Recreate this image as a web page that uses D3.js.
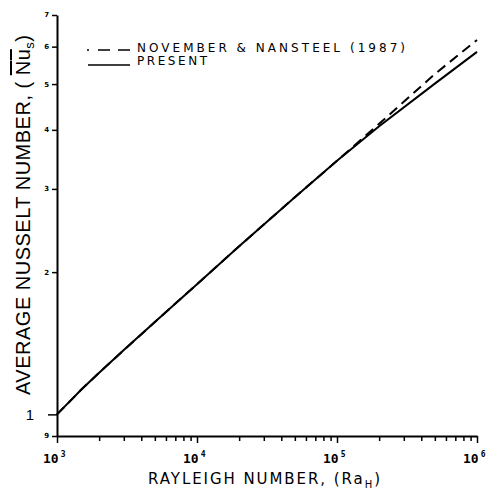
<!DOCTYPE html>
<html>
<head>
<meta charset="utf-8">
<script src="https://cdn.jsdelivr.net/npm/d3@7"></script>
<style>
  body { margin: 0; background: #fff; }
  svg { display: block; }
</style>
</head>
<body>
<script>
// data
var raValues = [1e3, 1.5e3, 2e3, 3e3, 5e3, 1e4, 2e4, 5e4, 1e5, 2e5, 5e5, 1e6];
var nuPresent = [1.00, 1.13, 1.225, 1.368, 1.568, 1.886, 2.268, 2.882, 3.44, 4.07, 5.01, 5.85];
var nuNovember = [1.00, 1.13, 1.225, 1.368, 1.568, 1.886, 2.268, 2.882, 3.44, 4.12, 5.25, 6.2];
var xMajor = [1e3, 1e4, 1e5, 1e6];
var xExponents = ["3", "4", "5", "6"];
var yTicks = [0.9, 1, 2, 3, 4, 5, 6, 7];
var yLabels = ["9", "1", "2", "3", "4", "5", "6", "7"];
var legendNames = ["NOVEMBER & NANSTEEL (1987)", "PRESENT"];

var W = 489, H = 490;
var svg = d3.select("body").append("svg").attr("width", W).attr("height", H);

var x = d3.scaleLog().domain([1e3, 1e6]).range([57, 477]);
var y = d3.scaleLog().domain([0.9, 7]).range([436, 15]);

// all minor ticks for the log x axis
var xTicks = [];
xMajor.forEach(function (m, i) {
    if (i < xMajor.length - 1) {
        for (var k = 1; k < 10; k++) xTicks.push(m * k);
    } else xTicks.push(m);
});

var gx = svg.append("g").attr("transform", "translate(0," + y.range()[0] + ")")
    .call(d3.axisBottom(x).tickValues(xTicks).tickSize(5).tickFormat("").tickSizeOuter(0));
gx.select(".domain").attr("stroke-width", 2);
gx.selectAll(".tick line").attr("stroke-width", 1.5)
    .attr("y2", function (d) { return xMajor.indexOf(d) >= 0 ? 7 : 5; });

var gy = svg.append("g").attr("transform", "translate(" + x.range()[0] + ",0)")
    .call(d3.axisLeft(y).tickValues(yTicks).tickSize(5).tickFormat("").tickSizeOuter(0));
gy.select(".domain").attr("stroke-width", 2);
gy.selectAll(".tick line").attr("stroke-width", 1.5)
    .attr("x2", function (d) { return d === 1 ? -9 : -5; });

// y tick labels: "1" large, the others tiny
yTicks.forEach(function (v, i) {
    var big = v === 1;
    svg.append("text")
        .attr("x", big ? 34 : 49).attr("y", y(v))
        .attr("dy", big ? "0.36em" : "0.35em")
        .attr("text-anchor", "end")
        .attr("font-family", big ? "Liberation Sans" : "DejaVu Sans")
        .attr("font-weight", big ? "normal" : "bold")
        .attr("font-size", big ? 15 : 7)
        .text(yLabels[i]);
});

// x tick labels 10^n
xMajor.forEach(function (v, i) {
    var t = svg.append("text")
        .attr("x", x(v) - 14).attr("y", 463)
        .attr("font-family", "DejaVu Sans Mono").attr("font-weight", "bold")
        .attr("font-size", 13);
    t.append("tspan").text("10");
    t.append("tspan").attr("dx", 2).attr("dy", -6).attr("font-size", 8).text(xExponents[i]);
});

// axis titles
var xt = svg.append("text").attr("x", 148).attr("y", 484)
    .attr("font-family", "DejaVu Sans").attr("font-size", 15)
    .attr("textLength", 232).attr("lengthAdjust", "spacing");
xt.append("tspan").text("RAYLEIGH NUMBER, (Ra");
xt.append("tspan").attr("dy", 4).attr("font-size", 10).text("H");
xt.append("tspan").attr("dy", -4).text(")");

var yt = svg.append("text").attr("transform", "translate(30,215) rotate(-90)")
    .attr("text-anchor", "middle")
    .attr("font-family", "Liberation Sans").attr("font-size", 20)
    .attr("textLength", 360).attr("lengthAdjust", "spacing");
yt.append("tspan").text("AVERAGE  NUSSELT  NUMBER,  ( ");
yt.append("tspan").style("text-decoration", "overline").text("Nu");
yt.append("tspan").attr("dy", 4).attr("font-size", 13).text("s");
yt.append("tspan").attr("dy", -4).text(")");

// curves
var line = d3.line()
    .x(function (d, i) { return x(raValues[i]); })
    .y(function (d) { return y(d); });

svg.append("path").datum(nuNovember).attr("d", line)
    .attr("fill", "none").attr("stroke", "#000").attr("stroke-width", 2)
    .attr("stroke-dasharray", "10,6");
svg.append("path").datum(nuPresent).attr("d", line)
    .attr("fill", "none").attr("stroke", "#000").attr("stroke-width", 2);

// legend
var lg = svg.append("g");
lg.append("line").attr("x1", 87).attr("x2", 130).attr("y1", 50).attr("y2", 50)
    .attr("stroke", "#000").attr("stroke-width", 1.5).attr("stroke-dasharray", "2,9,12,8,12");
lg.append("line").attr("x1", 88).attr("x2", 130).attr("y1", 65).attr("y2", 65)
    .attr("stroke", "#000").attr("stroke-width", 1.5);
lg.append("text").attr("x", 137).attr("y", 52)
    .attr("font-family", "DejaVu Sans").attr("font-size", 12)
    .attr("textLength", 268).attr("lengthAdjust", "spacing")
    .text(legendNames[0]);
lg.append("text").attr("x", 137).attr("y", 65)
    .attr("font-family", "DejaVu Sans").attr("font-size", 12)
    .attr("textLength", 70).attr("lengthAdjust", "spacing")
    .text(legendNames[1]);
</script>
</body>
</html>
